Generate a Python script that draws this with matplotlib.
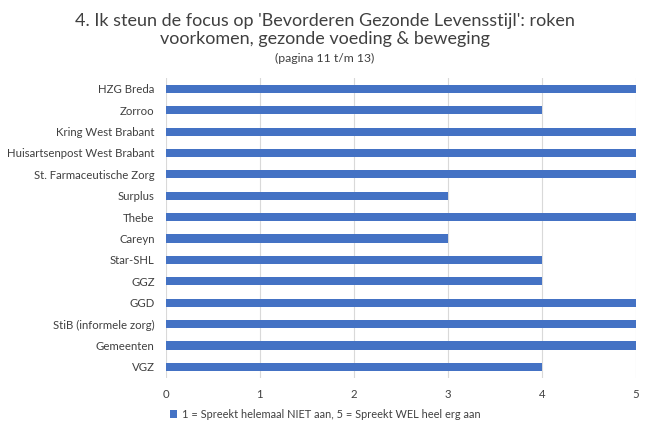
import matplotlib.pyplot as plt

plt.rcParams['font.family'] = ['Lato', 'DejaVu Sans']

categories = ["HZG Breda", "Zorroo", "Kring West Brabant", "Huisartsenpost West Brabant",
              "St. Farmaceutische Zorg", "Surplus", "Thebe", "Careyn", "Star-SHL", "GGZ",
              "GGD", "StiB (informele zorg)", "Gemeenten", "VGZ"]
scores = [5, 4, 5, 5, 5, 3, 5, 3, 4, 4, 5, 5, 5, 4]
xticks = [0, 1, 2, 3, 4, 5]
legend_label = "1 = Spreekt helemaal NIET aan, 5 = Spreekt WEL heel erg aan"

fig = plt.figure(figsize=(6.5, 4.34), dpi=100)
ax = fig.add_axes([0.255, 0.130, 0.723, 0.690])

y = list(range(len(categories)))
ax.barh(y, scores, height=0.38, color='#4472C4', label=legend_label, zorder=3)
ax.set_ylim(len(categories) - 0.5, -0.5)
ax.set_yticks(y)
ax.set_yticklabels(categories, fontsize=8.2, color='#404040')
ax.set_xlim(0, 5)
ax.set_xticks(xticks)
ax.set_xticklabels([str(t) for t in xticks], fontsize=8.2, color='#404040')
ax.grid(axis='x', color='#d9d9d9', linewidth=0.8, zorder=0)
for s in ax.spines.values():
    s.set_visible(False)
ax.tick_params(length=0, pad=8)

fig.text(0.5, 0.931, "4. Ik steun de focus op 'Bevorderen Gezonde Levensstijl': roken\nvoorkomen, gezonde voeding & beweging",
         ha='center', va='center', fontsize=13, color='#404040', linespacing=1.2)
fig.text(0.5, 0.866, "(pagina 11 t/m 13)", ha='center', va='center', fontsize=8.8, color='#404040')

fig.legend(loc='center', bbox_to_anchor=(0.5, 0.045), frameon=False, fontsize=7.9,
           handlelength=0.7, handleheight=0.7, handletextpad=0.4, labelcolor='#404040')

fig.savefig('out.png', dpi=100)
